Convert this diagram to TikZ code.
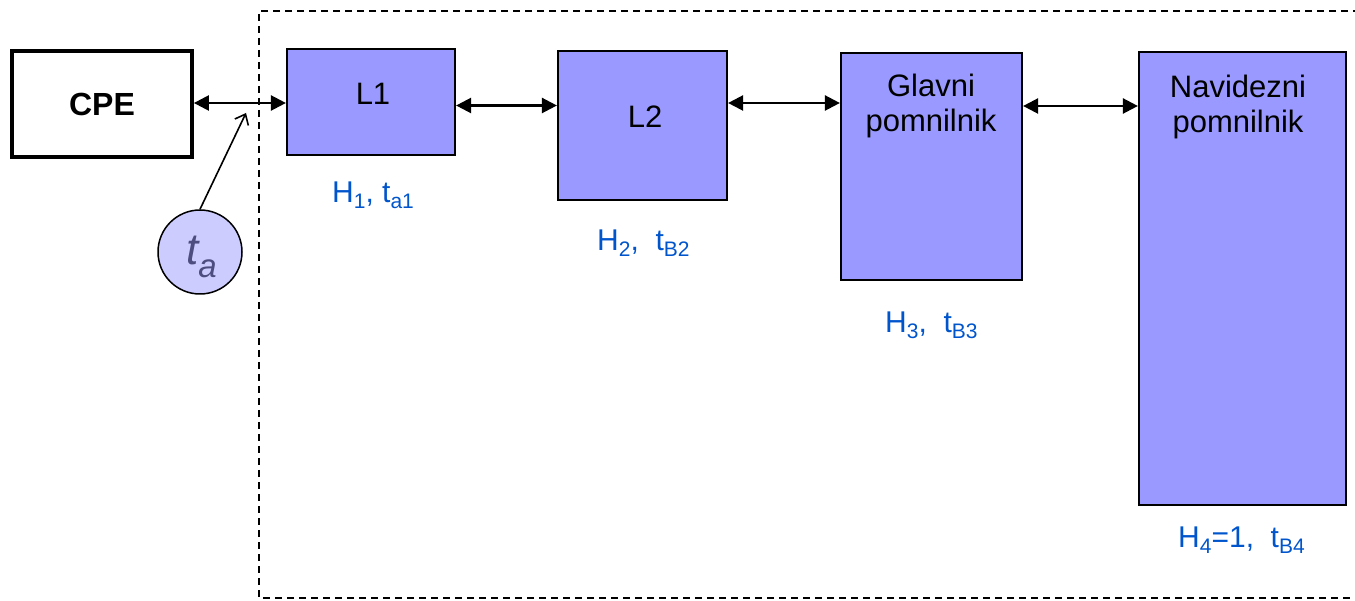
\documentclass[tikz,border=0pt]{standalone}
\usepackage{fontspec}
\setmainfont{Liberation Sans}
\usetikzlibrary{arrows.meta,calc}
\definecolor{boxfill}{RGB}{153,153,255}
\definecolor{circfill}{RGB}{204,204,255}
\definecolor{lblue}{RGB}{0,85,204}
\definecolor{tacol}{RGB}{77,77,128}
\newcommand{\lsub}[1]{\raisebox{-6pt}{\fontsize{21}{21}\selectfont #1}}
\begin{document}
\begin{tikzpicture}[x=1pt,y=-1pt,
 memb/.style={draw=black,line width=2.2pt,fill=boxfill,inner sep=0pt},
 cpebox/.style={draw=black,line width=3.8pt,fill=white,inner sep=0pt,font=\fontsize{32}{32}\selectfont\bfseries},
 btext/.style={font=\fontsize{31}{35}\selectfont,align=center,anchor=base,inner sep=0pt},
 lbl/.style={text=lblue,font=\fontsize{30}{30}\selectfont,anchor=base west,inner sep=0pt},
 dbl/.style={line width=2.4pt,{Triangle[length=15pt,width=15pt]}-{Triangle[length=15pt,width=15pt]}},
 pointer/.style={line width=1.6pt,-{Straight Barb[length=9pt,width=15pt]}},
 cachecirc/.style={circle,draw=black,line width=1.5pt,fill=circfill,minimum size=84pt,inner sep=0pt}
]
\useasboundingbox (0,0) rectangle (1355,601);
\draw[line width=1.5pt,dash pattern=on 7pt off 5pt] (1360,11) -- (259,11) -- (259,598) -- (1360,598);

\node[cpebox,minimum width=180pt,minimum height=106pt] (CPE) at (102,104) {CPE};
\node[memb,minimum width=168pt,minimum height=106pt] (L1) at (371,102) {};
\node[memb,minimum width=169pt,minimum height=149pt] (L2) at (642.5,125.5) {};
\node[memb,minimum width=181pt,minimum height=227pt] (L3) at (931.5,166.5) {};
\node[memb,minimum width=207pt,minimum height=453pt] (L4) at (1242.5,278.5) {};

\node[btext] (tL1) at (373,105) {L1};
\node[btext] (tL2) at (645,128) {L2};
\node[btext] (tL3) at (931,132) {Glavni\\pomnilnik};
\node[btext] (tL4) at (1238,133) {Navidezni\\pomnilnik};

\node[lbl] (h1) at (332,203) {H\lsub{1}, t\lsub{a1}};
\node[lbl] (h2) at (597,251) {H\lsub{2},\ \ t\lsub{B2}};
\node[lbl] (h3) at (885,333) {H\lsub{3},\ \ t\lsub{B3}};
\node[lbl] (h4) at (1178,547) {H\lsub{4}=1,\ \ t\lsub{B4}};

\draw[dbl] (CPE.east |- 0,103) -- (L1.west |- 0,103);
\draw[dbl] (L1.east |- 0,105.5) -- (L2.west |- 0,105.5);
\draw[dbl] (L2.east |- 0,103) -- (L3.west |- 0,103);
\draw[dbl] (L3.east |- 0,106) -- (L4.west |- 0,106);

\node[cachecirc] (ta) at (200,252) {};
\node[anchor=base west,inner sep=0pt,text=tacol] (tatext) at (186,265) {\fontsize{44}{44}\selectfont\itshape t\raisebox{-13pt}{\fontsize{33}{33}\selectfont a}};
\coordinate (tip) at (246,113);
\draw[pointer] (ta.north) -- (tip);
\end{tikzpicture}
\end{document}
